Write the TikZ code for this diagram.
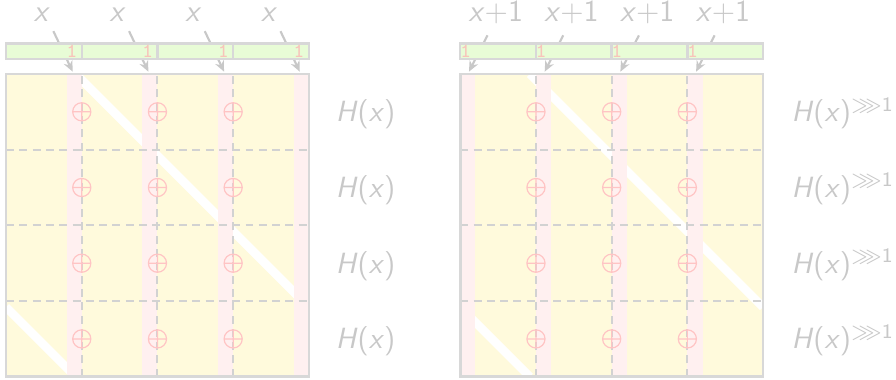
\documentclass[tikz,border=0pt]{standalone}
\usepackage{amsmath}
\usepackage{amssymb}
\usepackage{xcolor}
\definecolor{faint}{RGB}{200,200,200}
\definecolor{rim}{RGB}{216,216,216}
\definecolor{gridgray}{RGB}{210,210,210}
\definecolor{cream}{RGB}{255,250,220}
\definecolor{blush}{RGB}{255,240,240}
\definecolor{rose}{RGB}{255,196,196}
\definecolor{mint}{RGB}{232,252,214}
\definecolor{salmon}{RGB}{248,196,186}
\usetikzlibrary{arrows.meta}
\tikzset{
  gridbox/.style={draw=rim, line width=1pt},
  carrybar/.style={draw=rim, fill=mint, line width=0.9pt,
    minimum width=1cm, minimum height=0.2cm, inner sep=0pt, outer sep=0pt},
  laneband/.style={fill=blush},
  cutline/.style={draw=gridgray, line width=0.75pt, dash pattern=on 3pt off 2pt},
  wrapline/.style={draw=white, line width=3.2pt},
  carrydigit/.style={font=\ttfamily\fontsize{7.5}{8}\selectfont, text=salmon, inner sep=0pt},
  inlabel/.style={anchor=base, inner sep=0pt, font=\fontsize{11.5}{13}\selectfont\sffamily, text=faint},
  hashlabel/.style={anchor=base west, inner sep=0pt, font=\fontsize{11}{13}\selectfont\sffamily, text=faint},
  feedarrow/.style={-{Stealth[length=4pt, width=3.5pt]}, draw=faint, line width=0.8pt},
  xorop/.pic={\draw[rose, line width=0.45pt] (0,0) circle (0.12)
    (-0.12,0) -- (0.12,0) (0,-0.12) -- (0,0.12);}
}

\begin{document}
\begin{tikzpicture}
  \useasboundingbox (-0.08,-0.03) rectangle (11.756,4.977);

  % left block: carry enters at the right end of each lane
  \fill[cream] (0,0) rectangle (4,4);
  \begin{scope}
    \clip (0,0) rectangle (4,4);
    \draw[wrapline] (0.92,4) -- (4,0.92) (0,0.92) -- (0.92,0);
  \end{scope}
  \foreach \k in {0,...,3}
    \fill[laneband] (\k+0.8,0) rectangle (\k+1,4);
  \foreach \k in {1,2,3} {
    \draw[cutline] (\k,0) -- (\k,4);
    \draw[cutline] (0,\k) -- (4,\k);
    \foreach \r in {0.5,1.5,2.5,3.5} \pic at (\k,\r) {xorop};
  }
  \draw[gridbox] (0,0) rectangle (4,4);
  \foreach \k in {0,...,3} {
    \coordinate (srcL\k) at (\k+0.625,4.565);
    \coordinate (tipL\k) at (\k+0.88,4.03);
    \draw[feedarrow] (srcL\k) -- (tipL\k);
    \node[carrybar] (barL\k) at (\k+0.5,4.3) {};
    \node[carrydigit] (oneL\k) at (\k+0.87,4.3) {1};
    \node[inlabel] (inL\k) at (\k+0.475,4.69) {\textsl{x}};
  }
  \foreach \r [count=\i] in {3.5,2.5,1.5,0.5}
    \node[hashlabel] (hL\i) at (4.35,\r-0.13) {\textsl{H}(\textsl{x})};

  % right block: carry enters at the left end of each lane, rotated hash
  \begin{scope}[xshift=6cm]
    \fill[cream] (0,0) rectangle (4,4);
    \begin{scope}
      \clip (0,0) rectangle (4,4);
      \draw[wrapline] (0.92,4) -- (4,0.92) (0,0.92) -- (0.92,0);
    \end{scope}
    \foreach \k in {0,...,3}
      \fill[laneband] (\k,0) rectangle (\k+0.2,4);
    \foreach \k in {1,2,3} {
      \draw[cutline] (\k,0) -- (\k,4);
      \draw[cutline] (0,\k) -- (4,\k);
      \foreach \r in {0.5,1.5,2.5,3.5} \pic at (\k,\r) {xorop};
    }
    \draw[gridbox] (0,0) rectangle (4,4);
    \foreach \k in {0,...,3} {
      \coordinate (srcR\k) at (\k+0.36,4.51);
      \coordinate (tipR\k) at (\k+0.115,4.03);
      \draw[feedarrow] (srcR\k) -- (tipR\k);
      \node[carrybar] (barR\k) at (\k+0.5,4.3) {};
      \node[carrydigit] (oneR\k) at (\k+0.07,4.3) {1};
      \node[inlabel] (inR\k) at (\k+0.47,4.69) {\textsl{x}+1};
    }
    \foreach \r [count=\i] in {3.5,2.5,1.5,0.5}
      \node[hashlabel] (hR\i) at (4.37,\r-0.13)
        {\textsl{H}(\textsl{x})$^{\ggg\textsf{1}}$};
  \end{scope}

\end{tikzpicture}
\end{document}
